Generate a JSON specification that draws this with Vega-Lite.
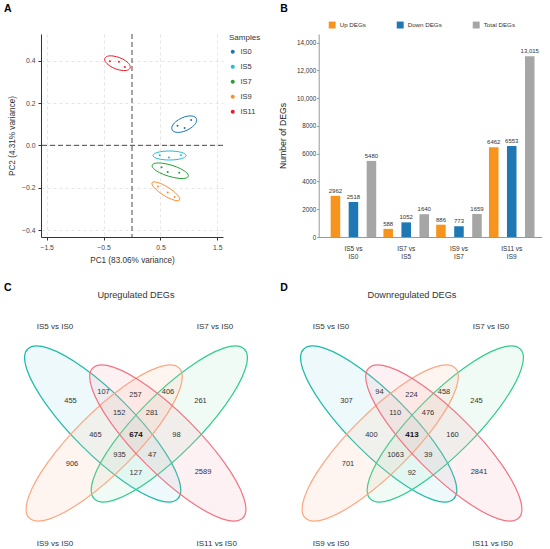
{
  "$schema": "https://vega.github.io/schema/vega-lite/v6.json",
  "background": "white",
  "padding": {"left": 4, "top": 4, "right": 0, "bottom": 0},
  "config": {
    "font": "Liberation Sans",
    "view": {"stroke": null},
    "title": {"fontSize": 10.5, "fontWeight": "bold", "color": "#000", "anchor": "start"},
    "axis": {"titleFontWeight": "normal"}
  },
  "datasets": {
    "pca": [
      {"group": "IS0", "PC1": 0.80, "PC2": 0.092},
      {"group": "IS0", "PC1": 0.925, "PC2": 0.082},
      {"group": "IS0", "PC1": 1.04, "PC2": 0.12},
      {"group": "IS5", "PC1": 0.486, "PC2": -0.047},
      {"group": "IS5", "PC1": 0.65, "PC2": -0.058},
      {"group": "IS5", "PC1": 0.86, "PC2": -0.047},
      {"group": "IS7", "PC1": 0.52, "PC2": -0.104},
      {"group": "IS7", "PC1": 0.627, "PC2": -0.126},
      {"group": "IS7", "PC1": 0.83, "PC2": -0.129},
      {"group": "IS9", "PC1": 0.456, "PC2": -0.195},
      {"group": "IS9", "PC1": 0.627, "PC2": -0.223},
      {"group": "IS9", "PC1": 0.75, "PC2": -0.244},
      {"group": "IS11", "PC1": -0.388, "PC2": 0.397},
      {"group": "IS11", "PC1": -0.23, "PC2": 0.395},
      {"group": "IS11", "PC1": -0.124, "PC2": 0.37}
    ],
    "pca_ellipses": [
      {"sample": "IS0", "cx": 0.918, "cy": 0.1},
      {"sample": "IS5", "cx": 0.66, "cy": -0.048},
      {"sample": "IS7", "cx": 0.672, "cy": -0.12},
      {"sample": "IS9", "cx": 0.595, "cy": -0.217},
      {"sample": "IS11", "cx": -0.255, "cy": 0.388}
    ],
    "degs": [
      {"comparison": "IS5 vs IS0", "type": "Up DEGs", "value": 2962},
      {"comparison": "IS5 vs IS0", "type": "Down DEGs", "value": 2518},
      {"comparison": "IS5 vs IS0", "type": "Total DEGs", "value": 5480},
      {"comparison": "IS7 vs IS5", "type": "Up DEGs", "value": 588},
      {"comparison": "IS7 vs IS5", "type": "Down DEGs", "value": 1052},
      {"comparison": "IS7 vs IS5", "type": "Total DEGs", "value": 1640},
      {"comparison": "IS9 vs IS7", "type": "Up DEGs", "value": 886},
      {"comparison": "IS9 vs IS7", "type": "Down DEGs", "value": 773},
      {"comparison": "IS9 vs IS7", "type": "Total DEGs", "value": 1659},
      {"comparison": "IS11 vs IS9", "type": "Up DEGs", "value": 6462},
      {"comparison": "IS11 vs IS9", "type": "Down DEGs", "value": 6553},
      {"comparison": "IS11 vs IS9", "type": "Total DEGs", "value": 13015}
    ],
    "venn_sets": [
      {"set": "IS5 vs IS0", "cx": -33.3, "cy": -10.5, "lx": -81, "ly": -108},
      {"set": "IS7 vs IS0", "cx": 33.3, "cy": -10.5, "lx": 79, "ly": -108},
      {"set": "IS9 vs IS0", "cx": -31.8, "cy": 8.5, "lx": -81, "ly": 109},
      {"set": "IS11 vs IS0", "cx": 31.8, "cy": 8.5, "lx": 80.7, "ly": 109}
    ],
    "venn_counts": [
      {"region": "IS5 only", "x": -65.5, "y": -33.7, "up": 455, "down": 307},
      {"region": "IS5 & IS11", "x": -32.5, "y": -42.3, "up": 107, "down": 94},
      {"region": "IS9 & IS11", "x": -0.5, "y": -39.2, "up": 257, "down": 224},
      {"region": "IS7 & IS9", "x": 32, "y": -42.3, "up": 406, "down": 458},
      {"region": "IS7 only", "x": 64.5, "y": -33.7, "up": 261, "down": 245},
      {"region": "IS5 & IS9 & IS11", "x": -16.8, "y": -21.7, "up": 152, "down": 110},
      {"region": "IS7 & IS9 & IS11", "x": 16, "y": -21.7, "up": 281, "down": 476},
      {"region": "IS5 & IS9", "x": -40.6, "y": 0, "up": 465, "down": 400},
      {"region": "all", "x": 0, "y": 0, "up": 674, "down": 413},
      {"region": "IS7 & IS11", "x": 40.5, "y": 0, "up": 98, "down": 160},
      {"region": "IS9 only", "x": -64, "y": 29.7, "up": 906, "down": 701},
      {"region": "IS5 & IS7 & IS9", "x": -16.5, "y": 20.2, "up": 935, "down": 1063},
      {"region": "IS5 & IS7 & IS11", "x": 16.2, "y": 20.2, "up": 47, "down": 39},
      {"region": "IS5 & IS7", "x": -0.2, "y": 38.7, "up": 127, "down": 92},
      {"region": "IS11 only", "x": 67, "y": 37, "up": 2589, "down": 2841}
    ],
    "venn_titles": [
      {"panel": "up", "label": "Upregulated DEGs"},
      {"panel": "down", "label": "Downregulated DEGs"}
    ]
  },
  "columns": 2,
  "align": "each",
  "spacing": {"row": 18.5, "column": 16.7},
  "resolve": {
    "scale": {"color": "independent", "shape": "independent", "stroke": "independent", "fill": "independent"},
    "legend": {"color": "independent"}
  },
  "concat": [
    {
      "width": 182,
      "height": 203,
      "title": {"text": "A", "frame": "group", "dx": -37, "offset": 19},
      "layer": [
        {
          "data": {"values": [{}]},
          "mark": {"type": "rule", "strokeDash": [5, 3], "color": "#333", "strokeWidth": 0.9},
          "encoding": {"x": {"datum": 0, "type": "quantitative"}}
        },
        {
          "data": {"values": [{}]},
          "mark": {"type": "rule", "strokeDash": [5, 3], "color": "#333", "strokeWidth": 0.9},
          "encoding": {"y": {"datum": 0, "type": "quantitative"}}
        },
        {
          "data": {"name": "pca_ellipses"},
          "mark": {"type": "point", "size": 4, "filled": false, "opacity": 1, "strokeWidth": 1},
          "encoding": {
            "x": {"field": "cx", "type": "quantitative", "title": "PC1 (83.06% variance)"},
            "y": {"field": "cy", "type": "quantitative", "title": "PC2 (4.31% variance)"},
            "shape": {
              "field": "sample", "type": "nominal", "legend": null,
              "scale": {
                "domain": ["IS11", "IS0", "IS5", "IS7", "IS9"],
                "range": [
                  "M -12.6 -4.84 A 13.5 5.8 21 1 1 12.6 4.84 A 13.5 5.8 21 1 1 -12.6 -4.84 Z",
                  "M -12.05 5.62 A 13.3 6.5 -25 1 1 12.05 -5.62 A 13.3 6.5 -25 1 1 -12.05 5.62 Z",
                  "M -16.5 0 A 16.5 4.5 0 1 1 16.5 0 A 16.5 4.5 0 1 1 -16.5 0 Z",
                  "M -17.97 -5.49 A 18.8 5.5 17 1 1 17.97 5.49 A 18.8 5.5 17 1 1 -17.97 -5.49 Z",
                  "M -13.74 -8.59 A 16.2 4.5 32 1 1 13.74 8.59 A 16.2 4.5 32 1 1 -13.74 -8.59 Z"
                ]
              }
            },
            "stroke": {
              "field": "sample", "type": "nominal", "legend": null,
              "scale": {
                "domain": ["IS11", "IS9", "IS7", "IS5", "IS0"],
                "range": ["#ec1c24", "#fb8c2e", "#21a12f", "#1fbecf", "#1b75b3"]
              }
            }
          }
        },
        {
          "data": {"name": "pca"},
          "mark": {"type": "circle", "size": 4, "opacity": 1},
          "encoding": {
            "x": {
              "field": "PC1", "type": "quantitative", "title": "PC1 (83.06% variance)",
              "scale": {"domain": [-1.6, 1.6], "nice": false, "zero": false},
              "axis": {
                "values": [-1.5, -1, -0.5, 0, 0.5, 1, 1.5], "format": ".1f",
                "grid": true, "gridDash": [3, 3], "gridColor": "#dedede", "gridWidth": 0.8,
                "domainColor": "#333", "tickColor": "#333", "tickSize": 3,
                "labelFontSize": 6.8, "labelColor": "#444", "labelPadding": 4,
                "titleFontSize": 8.2, "titleColor": "#333", "titlePadding": 6
              }
            },
            "y": {
              "field": "PC2", "type": "quantitative", "title": "PC2 (4.31% variance)",
              "scale": {"domain": [-0.433, 0.526], "nice": false, "zero": false},
              "axis": {
                "values": [-0.4, -0.2, 0, 0.2, 0.4], "format": ".1f",
                "grid": true, "gridDash": [3, 3], "gridColor": "#dedede", "gridWidth": 0.8,
                "domainColor": "#333", "tickColor": "#333", "tickSize": 3,
                "labelFontSize": 6.8, "labelColor": "#444", "labelPadding": 3,
                "titleFontSize": 8.2, "titleColor": "#333", "titlePadding": 5
              }
            },
            "color": {
              "field": "group", "type": "nominal",
              "scale": {
                "domain": ["IS0", "IS5", "IS7", "IS9", "IS11"],
                "range": ["#1b75b3", "#1fbecf", "#21a12f", "#fb8c2e", "#ec1c24"]
              },
              "legend": {
                "title": "Samples", "orient": "right", "offset": 6, "padding": 0,
                "titleFontSize": 8, "titleFontWeight": "normal", "titleColor": "#333", "titlePadding": 6,
                "labelFontSize": 7.5, "labelColor": "#333", "labelOffset": 4,
                "symbolType": "circle", "symbolSize": 16, "rowPadding": 6
              }
            }
          }
        }
      ]
    },
    {
      "width": 223,
      "height": 203,
      "title": {"text": "B", "frame": "group", "dx": -38.4, "offset": 6.6},
      "data": {"name": "degs"},
      "encoding": {
        "x": {
          "field": "comparison", "type": "nominal", "sort": null,
          "scale": {"paddingInner": 0, "paddingOuter": 0.113, "align": 0.7},
          "axis": {
            "title": null, "labelAngle": 0, "ticks": false, "domainColor": "#999",
            "labelExpr": "[split(datum.label, ' vs ')[0] + ' vs', split(datum.label, ' vs ')[1]]",
            "labelFontSize": 6.5, "labelColor": "#333", "labelPadding": 8, "labelLineHeight": 8
          }
        },
        "xOffset": {
          "field": "type", "type": "nominal", "sort": ["Up DEGs", "Down DEGs", "Total DEGs"],
          "scale": {"paddingInner": 0.47, "paddingOuter": 0.2}
        },
        "y": {
          "field": "value", "type": "quantitative",
          "scale": {"domain": [0, 14619], "nice": false},
          "axis": {
            "values": [0, 2000, 4000, 6000, 8000, 10000, 12000, 14000],
            "labelExpr": "datum.value >= 10000 ? format(datum.value, ',') : format(datum.value, 'd')",
            "title": "Number of DEGs", "grid": false,
            "domainColor": "#999", "tickColor": "#999", "tickSize": 2,
            "labelFontSize": 6.3, "labelColor": "#333", "labelPadding": 1,
            "titleFontSize": 8.7, "titleColor": "#222", "titlePadding": 9
          }
        }
      },
      "layer": [
        {
          "mark": {"type": "bar"},
          "encoding": {
            "color": {
              "field": "type", "type": "nominal",
              "scale": {"domain": ["Up DEGs", "Down DEGs", "Total DEGs"], "range": ["#f7941d", "#1f78b4", "#a6a6a6"]},
              "legend": {
                "orient": "none", "legendX": 10, "legendY": -12.5, "direction": "horizontal",
                "title": null, "symbolType": "square", "symbolSize": 48, "symbolStrokeWidth": 0,
                "labelFontSize": 6.2, "labelColor": "#333", "columnPadding": 30, "labelOffset": 4
              }
            }
          }
        },
        {
          "mark": {"type": "text", "baseline": "bottom", "dy": -2, "fontSize": 6, "color": "#333"},
          "encoding": {
            "text": {"value": {"expr": "datum.value >= 10000 ? format(datum.value, ',') : format(datum.value, 'd')"}}
          }
        }
      ]
    },
    {
      "width": 215,
      "height": 266,
      "title": {"text": "C", "frame": "group", "dx": -37, "offset": -10.2},
      "layer": [
        {
          "data": {"name": "venn_sets"},
          "mark": {"type": "point", "size": 4, "filled": true, "opacity": 1, "fillOpacity": 0.15, "strokeOpacity": 1, "strokeWidth": 1.2},
          "encoding": {
            "x": {"field": "cx", "type": "quantitative", "scale": {"domain": [-95, 120], "nice": false, "zero": false}, "axis": null},
            "y": {"field": "cy", "type": "quantitative", "scale": {"domain": [-151, 115], "nice": false, "zero": false, "reverse": true}, "axis": null},
            "shape": {
              "field": "set", "type": "nominal", "legend": null,
              "scale": {
                "domain": ["IS5 vs IS0", "IS7 vs IS0", "IS9 vs IS0", "IS11 vs IS0"],
                "range": [
                  "M -74.95 -74.95 A 106 30 45 1 1 74.95 74.95 A 106 30 45 1 1 -74.95 -74.95 Z",
                  "M -74.95 74.95 A 106 30 -45 1 1 74.95 -74.95 A 106 30 -45 1 1 -74.95 74.95 Z",
                  "M -74.95 74.95 A 106 30 -45 1 1 74.95 -74.95 A 106 30 -45 1 1 -74.95 74.95 Z",
                  "M -74.95 -74.95 A 106 30 45 1 1 74.95 74.95 A 106 30 45 1 1 -74.95 -74.95 Z"
                ]
              }
            },
            "fill": {
              "field": "set", "type": "nominal", "legend": null,
              "scale": {"domain": ["IS5 vs IS0", "IS7 vs IS0", "IS9 vs IS0", "IS11 vs IS0"], "range": ["#8dd7eb", "#a2e4bc", "#ffbc9b", "#f3a3b1"]}
            },
            "stroke": {
              "field": "set", "type": "nominal", "legend": null,
              "scale": {"domain": ["IS5 vs IS0", "IS7 vs IS0", "IS9 vs IS0", "IS11 vs IS0"], "range": ["#1dbba6", "#2fcd8c", "#fca780", "#f47382"]}
            }
          }
        },
        {
          "data": {"name": "venn_sets"},
          "mark": {"type": "text", "fontSize": 8, "color": "#333"},
          "encoding": {
            "x": {"field": "lx", "type": "quantitative", "axis": null},
            "y": {"field": "ly", "type": "quantitative", "axis": null},
            "text": {"field": "set", "type": "nominal"}
          }
        },
        {
          "data": {"name": "venn_counts"},
          "transform": [{"filter": "datum.region != 'all'"}],
          "mark": {"type": "text", "fontSize": 7.5, "color": "#333"},
          "encoding": {
            "x": {"field": "x", "type": "quantitative", "axis": null},
            "y": {"field": "y", "type": "quantitative", "axis": null},
            "text": {"field": "up", "type": "nominal"}
          }
        },
        {
          "data": {"name": "venn_counts"},
          "transform": [{"filter": "datum.region == 'all'"}],
          "mark": {"type": "text", "fontSize": 8, "fontWeight": "bold", "color": "#111"},
          "encoding": {
            "x": {"field": "x", "type": "quantitative", "axis": null},
            "y": {"field": "y", "type": "quantitative", "axis": null},
            "text": {"field": "up", "type": "nominal"}
          }
        },
        {
          "data": {"name": "venn_titles"},
          "transform": [{"filter": "datum.panel == 'up'"}],
          "mark": {"type": "text", "fontSize": 9.2, "color": "#333"},
          "encoding": {
            "x": {"datum": 0, "type": "quantitative", "axis": null},
            "y": {"datum": -140, "type": "quantitative", "axis": null},
            "text": {"field": "label", "type": "nominal"}
          }
        }
      ]
    },
    {
      "width": 227,
      "height": 266,
      "title": {"text": "D", "frame": "group", "dx": -38.4, "offset": -10.2},
      "layer": [
        {
          "data": {"name": "venn_sets"},
          "mark": {"type": "point", "size": 4, "filled": true, "opacity": 1, "fillOpacity": 0.15, "strokeOpacity": 1, "strokeWidth": 1.2},
          "encoding": {
            "x": {"field": "cx", "type": "quantitative", "scale": {"domain": [-93.3, 133.7], "nice": false, "zero": false}, "axis": null},
            "y": {"field": "cy", "type": "quantitative", "scale": {"domain": [-151, 115], "nice": false, "zero": false, "reverse": true}, "axis": null},
            "shape": {
              "field": "set", "type": "nominal", "legend": null,
              "scale": {
                "domain": ["IS5 vs IS0", "IS7 vs IS0", "IS9 vs IS0", "IS11 vs IS0"],
                "range": [
                  "M -74.95 -74.95 A 106 30 45 1 1 74.95 74.95 A 106 30 45 1 1 -74.95 -74.95 Z",
                  "M -74.95 74.95 A 106 30 -45 1 1 74.95 -74.95 A 106 30 -45 1 1 -74.95 74.95 Z",
                  "M -74.95 74.95 A 106 30 -45 1 1 74.95 -74.95 A 106 30 -45 1 1 -74.95 74.95 Z",
                  "M -74.95 -74.95 A 106 30 45 1 1 74.95 74.95 A 106 30 45 1 1 -74.95 -74.95 Z"
                ]
              }
            },
            "fill": {
              "field": "set", "type": "nominal", "legend": null,
              "scale": {"domain": ["IS5 vs IS0", "IS7 vs IS0", "IS9 vs IS0", "IS11 vs IS0"], "range": ["#8dd7eb", "#a2e4bc", "#ffbc9b", "#f3a3b1"]}
            },
            "stroke": {
              "field": "set", "type": "nominal", "legend": null,
              "scale": {"domain": ["IS5 vs IS0", "IS7 vs IS0", "IS9 vs IS0", "IS11 vs IS0"], "range": ["#1dbba6", "#2fcd8c", "#fca780", "#f47382"]}
            }
          }
        },
        {
          "data": {"name": "venn_sets"},
          "mark": {"type": "text", "fontSize": 8, "color": "#333"},
          "encoding": {
            "x": {"field": "lx", "type": "quantitative", "axis": null},
            "y": {"field": "ly", "type": "quantitative", "axis": null},
            "text": {"field": "set", "type": "nominal"}
          }
        },
        {
          "data": {"name": "venn_counts"},
          "transform": [{"filter": "datum.region != 'all'"}],
          "mark": {"type": "text", "fontSize": 7.5, "color": "#333"},
          "encoding": {
            "x": {"field": "x", "type": "quantitative", "axis": null},
            "y": {"field": "y", "type": "quantitative", "axis": null},
            "text": {"field": "down", "type": "nominal"}
          }
        },
        {
          "data": {"name": "venn_counts"},
          "transform": [{"filter": "datum.region == 'all'"}],
          "mark": {"type": "text", "fontSize": 8, "fontWeight": "bold", "color": "#111"},
          "encoding": {
            "x": {"field": "x", "type": "quantitative", "axis": null},
            "y": {"field": "y", "type": "quantitative", "axis": null},
            "text": {"field": "down", "type": "nominal"}
          }
        },
        {
          "data": {"name": "venn_titles"},
          "transform": [{"filter": "datum.panel == 'down'"}],
          "mark": {"type": "text", "fontSize": 9.2, "color": "#333"},
          "encoding": {
            "x": {"datum": 0, "type": "quantitative", "axis": null},
            "y": {"datum": -140, "type": "quantitative", "axis": null},
            "text": {"field": "label", "type": "nominal"}
          }
        }
      ]
    }
  ]
}
